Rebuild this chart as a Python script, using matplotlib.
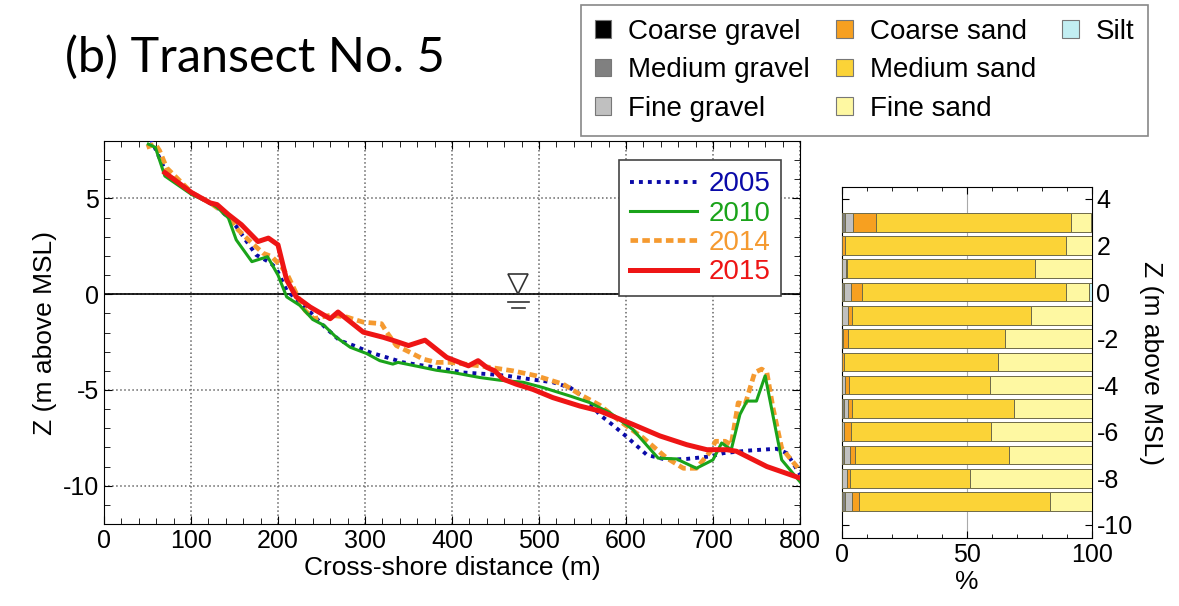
import matplotlib
matplotlib.use("Agg")
import matplotlib.pyplot as plt
from matplotlib.patches import Patch
from matplotlib.ticker import MultipleLocator
import numpy as np

plt.rcParams['font.family'] = ['Liberation Sans', 'DejaVu Sans']
plt.rcParams['axes.unicode_minus'] = False

# beach profiles (cross-shore distance m, elevation m above MSL)
x_2005 = [52, 55, 72, 100, 122, 131, 143, 152, 164, 175, 191, 198, 210, 222, 237, 254, 271, 287, 306,
          325, 344, 363, 382, 413, 444, 463, 490, 516, 536, 555, 570, 584, 601, 624, 647, 670, 697,
          712, 739, 773, 785, 798, 800]
z_2005 = [8.6, 8.0, 6.3, 5.3, 4.75, 4.5, 4.0, 3.54, 2.75, 2.05, 1.65, 1.35, 0.2, -0.3, -0.93, -1.72,
          -2.42, -2.68, -3.04, -3.3, -3.56, -3.7, -3.83, -4.09, -4.18, -4.26, -4.44, -4.6, -4.88,
          -5.49, -6.3, -6.8, -7.45, -8.39, -8.65, -8.6, -8.47, -8.3, -8.17, -8.07, -8.3, -9.26, -9.4]

x_2010 = [51, 59, 70, 101, 122, 131, 143, 152, 170, 188, 200, 210, 225, 240, 253, 267, 283, 302, 317,
          332, 338, 363, 382, 401, 432, 455, 482, 505, 536, 559, 570, 582, 608, 637, 658, 681, 700,
          710, 721, 731, 739, 750, 760, 779, 800]
z_2010 = [7.84, 7.67, 6.17, 5.2, 4.77, 4.5, 3.98, 2.84, 1.7, 1.96, 1.0, -0.14, -0.58, -1.32, -1.63,
          -2.25, -2.77, -3.1, -3.47, -3.65, -3.56, -3.79, -3.97, -4.09, -4.35, -4.49, -4.6, -4.88,
          -5.32, -5.67, -5.93, -6.2, -7.07, -8.56, -8.6, -9.09, -8.65, -7.77, -8.12, -6.28, -5.58,
          -5.58, -4.26, -8.65, -9.79]

x_2014 = [49, 59, 64, 72, 101, 122, 143, 154, 170, 183, 193, 204, 212, 221, 231, 241, 260, 279, 298,
          319, 325, 336, 352, 367, 382, 398, 432, 470, 497, 528, 547, 570, 593, 620, 647, 666, 681,
          697, 703, 714, 721, 729, 737, 748, 756, 762, 769, 779, 790, 800]
z_2014 = [7.67, 7.84, 7.49, 6.6, 5.3, 4.77, 4.1, 3.37, 2.67, 2.14, 1.96, 1.44, 0.91, 0.04, -0.84,
          -1.28, -1.1, -1.19, -1.46, -1.54, -1.98, -2.68, -3.04, -3.39, -3.56, -3.56, -3.74, -4.0,
          -4.26, -4.7, -5.23, -5.8, -6.63, -7.51, -8.56, -9.09, -9.09, -8.21, -7.68, -7.68, -7.86,
          -5.67, -5.75, -4.09, -3.91, -4.09, -5.93, -8.04, -8.65, -9.2]

x_2015 = [70, 101, 122, 130, 143, 158, 177, 189, 200, 210, 221, 237, 260, 269, 298, 321, 335, 350,
          369, 394, 419, 430, 440, 449, 459, 474, 493, 516, 547, 570, 608, 639, 670, 693, 716, 727,
          762, 800]
z_2015 = [6.35, 5.3, 4.77, 4.68, 4.16, 3.63, 2.75, 2.93, 2.58, 0.74, -0.14, -0.67, -1.28, -0.93,
          -1.98, -2.25, -2.45, -2.68, -2.4, -3.3, -3.74, -3.47, -3.82, -4.0, -4.44, -4.7, -4.97,
          -5.4, -5.84, -6.1, -6.8, -7.4, -7.86, -8.12, -8.12, -8.2, -9.0, -9.6]

# grain size composition (%) per sampling elevation
sample_z = [3, 2, 1, 0, -1, -2, -3, -4, -5, -6, -7, -8, -9]
coarse_gravel = [0.3, 0, 0, 0, 0, 0, 0, 0, 0, 0, 0, 0, 0.1]
medium_gravel = [1.0, 0, 0, 0.9, 0, 0.6, 0, 0.3, 0.9, 0, 0.9, 0, 1.3]
fine_gravel = [3.3, 0, 1.6, 2.7, 2.4, 0, 0, 1.1, 1.8, 0.9, 2.3, 2.1, 2.6]
coarse_sand = [9.0, 1.4, 0.7, 4.6, 1.6, 1.8, 1.0, 1.6, 1.3, 2.7, 2.1, 1.2, 3.0]
medium_sand = [78.0, 88.5, 74.9, 81.4, 71.9, 62.9, 61.7, 56.5, 65.1, 56.2, 61.6, 48.2, 76.5]
fine_sand = [8.0, 10.1, 22.8, 9.3, 24.1, 34.7, 37.3, 40.5, 30.9, 40.2, 33.1, 48.5, 16.5]
silt = [0.4, 0, 0, 1.1, 0, 0, 0, 0, 0, 0, 0, 0, 0]

fractions = ['Coarse gravel', 'Medium gravel', 'Fine gravel', 'Coarse sand',
             'Medium sand', 'Fine sand', 'Silt']
frac_colors = ['#000000', '#808080', '#c0c0c0', '#f7a020', '#fbd337', '#fef8a2', '#c2eef2']

fig = plt.figure(figsize=(11.79, 6.06), dpi=100)

# ---- profile panel
ax = fig.add_axes([0.0882, 0.1353, 0.5903, 0.632])
ax.plot(x_2005, z_2005, color='#0a0aa8', lw=2.8, ls=(0, (1, 1.3)), label='2005', zorder=3)
ax.plot(x_2014, z_2014, color='#f59a30', lw=3.4, ls=(0, (1.6, 0.9)), label='2014', zorder=4)
ax.plot(x_2010, z_2010, color='#1aa31a', lw=2.2, label='2010', zorder=5)
ax.plot(x_2015, z_2015, color='#ee1515', lw=3.6, label='2015', zorder=6)
ax.axhline(0, color='black', lw=1.2, zorder=2)

# mean sea level symbol
ax.plot([476], [0.52], marker='v', ms=15, mfc='white', mec='#333333', mew=1.2, zorder=7)
ax.plot([464, 488], [-0.4, -0.4], color='#333333', lw=1.2, zorder=7)
ax.plot([469, 484], [-0.7, -0.7], color='#333333', lw=1.2, zorder=7)

ax.set_xlim(0, 800)
ax.set_ylim(-12, 8)
ax.xaxis.set_major_locator(MultipleLocator(100))
ax.xaxis.set_minor_locator(MultipleLocator(20))
ax.yaxis.set_major_locator(MultipleLocator(5))
ax.yaxis.set_minor_locator(MultipleLocator(1))
ax.grid(True, which='major', ls=':', color='#666666', lw=1.1)
ax.tick_params(which='both', direction='in', top=True, right=True, labelsize=18)
ax.tick_params(which='major', length=6)
ax.tick_params(which='minor', length=4)
ax.set_xlabel('Cross-shore distance (m)', fontsize=19, labelpad=2)
ax.set_ylabel('Z (m above MSL)', fontsize=19, labelpad=4)

h, l = ax.get_legend_handles_labels()
order = [l.index(k) for k in ['2005', '2010', '2014', '2015']]
leg = ax.legend([h[i] for i in order], [l[i] for i in order], loc='upper right',
                bbox_to_anchor=(0.973, 0.950), borderaxespad=0, fontsize=20,
                handlelength=2.4, labelspacing=0.12, handletextpad=0.4, borderpad=0.4,
                fancybox=False, framealpha=1, edgecolor='#444444', labelcolor='linecolor')
leg.get_frame().set_linewidth(1.2)
leg.set_zorder(10)

# ---- grain size panel
ax2 = fig.add_axes([0.7139, 0.1117, 0.2120, 0.580])
data = np.array([coarse_gravel, medium_gravel, fine_gravel, coarse_sand,
                 medium_sand, fine_sand, silt])
left = np.zeros(len(sample_z))
for vals, col in zip(data, frac_colors):
    ax2.barh(sample_z, vals, left=left, height=0.8, color=col,
             edgecolor='#6e6a48', linewidth=0.7, zorder=3)
    left += vals
ax2.axvline(50, color='#aaaaaa', lw=0.8, zorder=1)
ax2.set_xlim(0, 100)
ax2.set_ylim(-10.58, 4.52)
ax2.set_xticks([0, 50, 100])
ax2.xaxis.set_minor_locator(MultipleLocator(10))
ax2.yaxis.set_major_locator(MultipleLocator(2))
ax2.yaxis.tick_right()
ax2.yaxis.set_label_position('right')
ax2.tick_params(which='both', direction='in', top=True, left=True, labelsize=18)
ax2.tick_params(which='major', length=5)
ax2.tick_params(which='minor', length=3)
ax2.set_xlabel('%', fontsize=19, labelpad=2)
ax2.set_ylabel('Z (m above MSL)', fontsize=19, rotation=270, labelpad=22)

# ---- title and grain-size legend
fig.text(0.055, 0.882, '(b) Transect No. 5', fontsize=35, family=['Lato', 'DejaVu Sans'],
         va='baseline', ha='left')

patches = [Patch(facecolor=c, edgecolor='#777777', linewidth=0.8) for c in frac_colors]
blank = Patch(facecolor='none', edgecolor='none')
fleg = fig.legend(patches + [blank, blank], fractions + ['', ''], loc='upper right',
                  bbox_to_anchor=(0.9737, 0.9917), borderaxespad=0,
                  ncol=3, fontsize=20, handlelength=0.6, handleheight=0.6,
                  handletextpad=0.6, columnspacing=0.95, labelspacing=0.45, borderpad=0.5,
                  fancybox=False, framealpha=1, edgecolor='#888888')
fleg.get_frame().set_linewidth(1.2)

fig.savefig('out.png', dpi=100)
